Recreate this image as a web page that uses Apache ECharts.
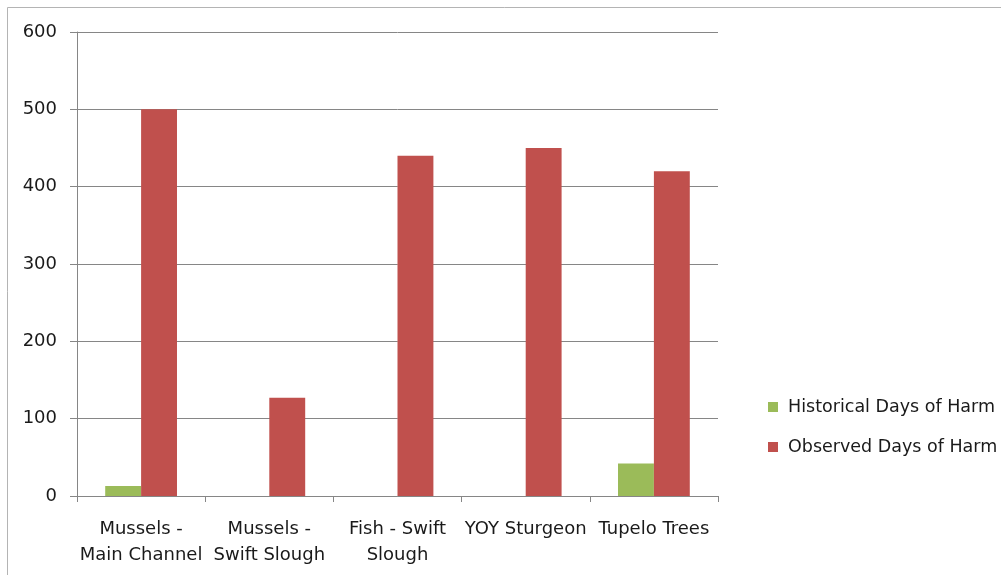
<!DOCTYPE html>
<html><head><meta charset="utf-8">
<script src="https://cdn.jsdelivr.net/npm/echarts@6/dist/echarts.min.js"></script>
<style>html,body{margin:0;padding:0;background:#fff}#c{width:1001px;height:575px}</style>
</head><body><div id="c"></div>
<script>
var categories = ['Mussels -\nMain Channel', 'Mussels -\nSwift Slough', 'Fish - Swift\nSlough', 'YOY Sturgeon', 'Tupelo Trees'];
var historical = [13, 0, 0, 0, 42];
var observed = [500, 127, 440, 450, 420];
var yTicks = [0, 100, 200, 300, 400, 500, 600];

var chart = echarts.init(document.getElementById('c'), null, {renderer: 'canvas'});
var font = 'DejaVu Sans';
chart.setOption({
  animation: false,
  backgroundColor: '#fff',
  graphic: [
    {type: 'line', shape: {x1: 7.5, y1: 7.5, x2: 1001, y2: 7.5}, style: {stroke: '#b4b4b4', lineWidth: 1}},
    {type: 'line', shape: {x1: 7.5, y1: 7.5, x2: 7.5, y2: 575}, style: {stroke: '#b4b4b4', lineWidth: 1}}
  ],
  grid: {left: 77, right: 283, top: 32, bottom: 79, containLabel: false},
  legend: {
    orient: 'vertical', left: 763, top: 393, itemWidth: 10, itemHeight: 10, itemGap: 22,
    icon: 'rect',
    textStyle: {fontFamily: font, fontSize: 17.5, color: '#1a1a1a', padding: [0, 0, 0, 5]},
    data: ['Historical Days of Harm', 'Observed Days of Harm']
  },
  xAxis: {
    type: 'category', data: categories, boundaryGap: true,
    axisLine: {lineStyle: {color: '#868686', width: 1}},
    axisTick: {show: true, length: 6, lineStyle: {color: '#868686'}},
    axisLabel: {interval: 0, margin: 20, fontFamily: font, fontSize: 18, color: '#1a1a1a', lineHeight: 26}
  },
  yAxis: {
    type: 'value', min: yTicks[0], max: yTicks[yTicks.length - 1], interval: 100,
    axisLine: {show: true, lineStyle: {color: '#868686', width: 1}},
    axisTick: {show: true, length: 7, lineStyle: {color: '#868686'}},
    splitLine: {lineStyle: {color: '#868686', width: 1}},
    axisLabel: {margin: 20, fontFamily: font, fontSize: 18, color: '#1a1a1a', padding: [3, 0, 0, 0]}
  },
  series: [
    {name: 'Historical Days of Harm', type: 'bar', data: historical, barGap: '0%', barCategoryGap: '44%',
     itemStyle: {color: '#9BBB59'}},
    {name: 'Observed Days of Harm', type: 'bar', data: observed, barGap: '0%', barCategoryGap: '44%',
     itemStyle: {color: '#C0504D'}}
  ]
});
</script></body></html>
